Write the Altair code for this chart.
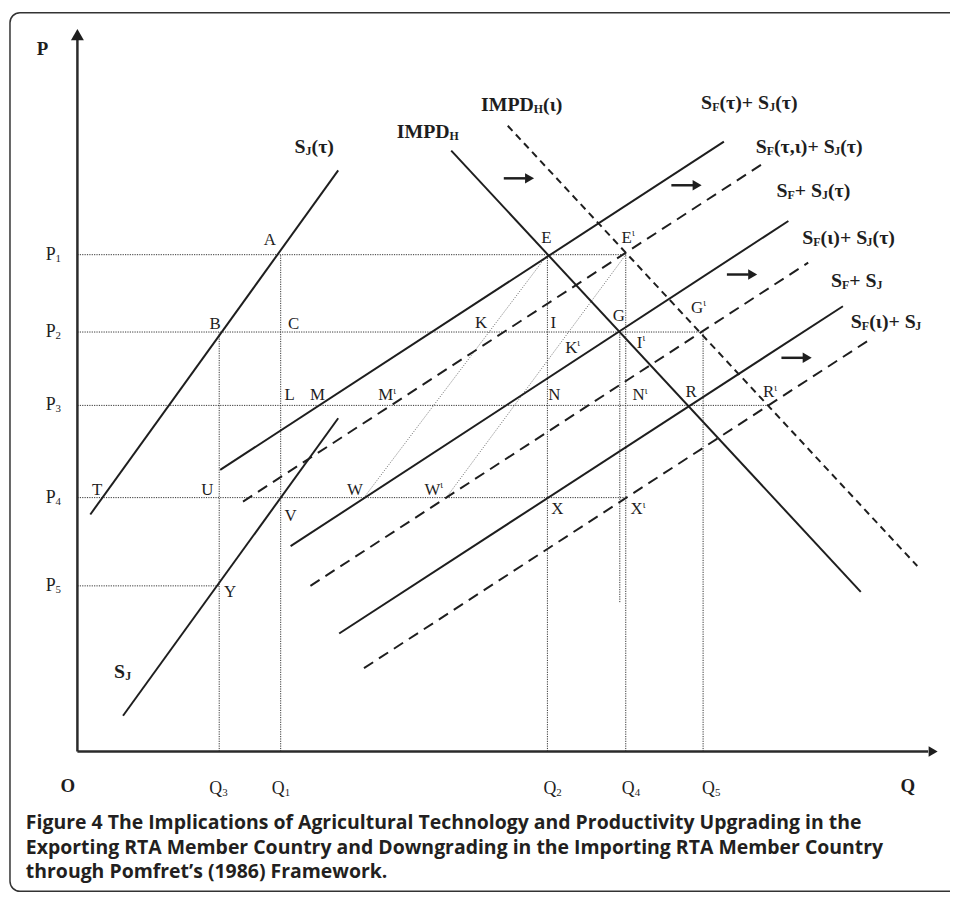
import re
import altair as alt
import pandas as pd

# ---------------- data (diagram units: Q to the right, P upward) ----------------
P_NAMES = ["P_{1}", "P_{2}", "P_{3}", "P_{4}", "P_{5}"]
P_VALUES = [501, 423, 349, 256, 167]
P_GUIDE_END_Q = [553, 627, 695, 552, 143]          # horizontal dotted guides end at E', G', R', X', Y

Q_NAMES = ["Q_{3}", "Q_{1}", "Q_{2}", "Q_{4}", "Q_{5}"]
Q_VALUES = [143, 205, 474, 553, 631]
Q_GUIDE_TOP_P = [423, 501, 501, 501, 423]          # vertical dotted guides end at B, A, E, E', G'

CURVE_LABELS = ["S_{J}(τ)", "S_{J}", "IMPD_{H}", "IMPD_{H}(ι)", "S_{F}(τ)+ S_{J}(τ)",
                "S_{F}(τ,ι)+ S_{J}(τ)", "S_{F}+ S_{J}(τ)", "S_{F}(ι)+ S_{J}(τ)",
                "S_{F}+ S_{J}", "S_{F}(ι)+ S_{J}"]
CURVE_STYLE = ["solid", "solid", "solid", "short", "solid", "dash", "solid", "dash", "solid", "dash"]
CURVE_Q0 = [13, 46, 377, 434, 144, 167, 215, 235, 264, 289]
CURVE_P0 = [239, 36, 606, 631, 284, 252, 207, 167, 119, 84]
CURVE_Q1 = [263, 263, 790, 847, 652, 690, 717, 737, 772, 800]
CURVE_P1 = [586, 336, 161, 187, 615, 592, 535, 493, 449, 416]

POINT_LABELS = ["A", "B", "C", "E", "E^{ι}", "K", "I", "G", "G^{ι}", "K^{ι}", "I^{ι}",
                "L", "M", "M^{ι}", "N", "N^{ι}", "R", "R^{ι}", "T", "U", "W", "W^{ι}",
                "V", "X", "X^{ι}", "Y"]
POINT_Q = [194, 139, 218, 473, 554, 407, 480, 546, 625, 498, 567,
           214, 242, 311, 481, 566, 619, 697, 20, 131, 280, 358,
           215, 484, 564, 154]
POINT_P = [511, 426, 426, 513, 513, 427, 427, 434, 442, 402, 407,
           354, 354, 354, 354, 354, 357, 357, 259, 259, 259, 259,
           232, 239, 239, 156]

# thin dotted diagonals W-E and W'-E'
DIAG_Q0 = [289, 372]
DIAG_P0 = [256, 256]
DIAG_Q1 = [474, 553]
DIAG_P1 = [501, 501]

# extra vertical guide from G
GV_Q = [547]
GV_P0 = [423]
GV_P1 = [150]

# shift arrows
ARROW_Q = [430, 599, 655, 710]
ARROW_P = [578, 571, 481, 397]

CAPTION_LINES = [
    "Figure 4 The Implications of Agricultural Technology and Productivity Upgrading in the",
    "Exporting RTA Member Country and Downgrading in the Importing RTA Member Country",
    "through Pomfret\u2019s (1986) Framework.",
]

# ---------------- layout helpers ----------------
XS = alt.Scale(domain=[-70, 880], nice=False, zero=False)
YS = alt.Scale(domain=[-143, 746], nice=False, zero=False)
INK = "#1e1e1e"
GUIDE = "#333333"

BOLD_W = {'S': 556, 'J': 500, 'F': 611, 'H': 778, 'I': 389, 'M': 944, 'P': 611, 'D': 722,
          '(': 333, ')': 333, '+': 570, ' ': 250, ',': 250, 'τ': 470, 'ι': 280}
REG_W = {'A': 722, 'B': 667, 'C': 667, 'E': 611, 'G': 722, 'I': 333, 'K': 722, 'L': 611,
         'M': 889, 'N': 722, 'R': 667, 'T': 611, 'U': 722, 'V': 722, 'W': 944, 'X': 722,
         'Y': 722, 'P': 556, 'Q': 722, 'ι': 280}


def width(txt, widths, size):
    return sum(widths.get(c, 500) for c in txt) * size / 1000.0


def layout(markup, q, p, size, widths, sub=(12, 2), sup=(10, 6), center=False):
    parts = re.split(r"([_^])\{([^}]*)\}", markup)
    pieces = []
    i = 0
    while i < len(parts):
        if i % 3 == 0:
            if parts[i]:
                pieces.append((parts[i], size, 0))
            i += 1
        else:
            kind, txt = parts[i], parts[i + 1]
            if kind == "_":
                pieces.append((txt, sub[0], -sub[1]))
            else:
                pieces.append((txt, sup[0], sup[1]))
            i += 2
    x = q
    if center:
        x = q - width(pieces[0][0], widths, pieces[0][1]) / 2.0
    rows = []
    for txt, s, dp in pieces:
        lead = len(txt) - len(txt.lstrip(" "))
        x += width(" " * lead, widths, s)
        core = txt.strip(" ")
        rows.append(dict(q=x, p=p + dp, t=core, s=s))
        x += width(core, widths, s) + width(" " * (len(txt) - lead - len(core)), widths, s)
    return rows


def rules(df, **mark):
    return alt.Chart(df).mark_rule(**mark).encode(
        x=alt.X("q0:Q", scale=XS, axis=None),
        y=alt.Y("p0:Q", scale=YS, axis=None),
        x2="q1:Q", y2="p1:Q")


def texts(rows, color=INK, **mark):
    return alt.Chart(pd.DataFrame(rows)).mark_text(
        align="left", baseline="alphabetic", color=color, **mark).encode(
        x=alt.X("q:Q", scale=XS, axis=None),
        y=alt.Y("p:Q", scale=YS, axis=None),
        text="t:N",
        size=alt.Size("s:Q", scale=None))


# ---------------- tables ----------------
curves = pd.DataFrame(dict(q0=CURVE_Q0, p0=CURVE_P0, q1=CURVE_Q1, p1=CURVE_P1, style=CURVE_STYLE))

hguides = pd.DataFrame(dict(q0=[0] * 5, p0=P_VALUES, q1=P_GUIDE_END_Q, p1=P_VALUES))
vguides = pd.DataFrame(dict(q0=Q_VALUES + GV_Q, p0=[0] * 5 + GV_P0,
                            q1=Q_VALUES + GV_Q, p1=Q_GUIDE_TOP_P + GV_P1))
guides = pd.concat([hguides, vguides], ignore_index=True)
diags = pd.DataFrame(dict(q0=DIAG_Q0, p0=DIAG_P0, q1=DIAG_Q1, p1=DIAG_P1))

axes_df = pd.DataFrame(dict(q0=[0, 0], p0=[0, 0], q1=[0, 858], p1=[718, 0]))
heads_up = pd.DataFrame(dict(q=[0], p=[723]))
heads_right = pd.DataFrame(dict(q=[863] + [a + 26 for a in ARROW_Q], p=[0] + ARROW_P))
arrows = pd.DataFrame(dict(q0=ARROW_Q, p0=ARROW_P, q1=[a + 22 for a in ARROW_Q], p1=ARROW_P))

frame = pd.DataFrame(dict(q0=[-68], q1=[895], p0=[745], p1=[-141]))

# text rows
bold_rows = []
CURVE_LABEL_Q = [219, 37, 322, 407, 629, 684, 705, 731, 760, 780]
CURVE_LABEL_P = [604, 74, 619, 646, 648, 604, 559, 512, 468, 427]
for lab, q, p in zip(CURVE_LABELS, CURVE_LABEL_Q, CURVE_LABEL_P):
    bold_rows += layout(lab, q, p, 20, BOLD_W, sub=(12, 2))
bold_rows += [dict(q=-41, p=702, t="P", s=19), dict(q=-17, p=-41, t="O", s=19),
              dict(q=830, p=-41, t="Q", s=19)]

reg_rows = []
for lab, q, p in zip(POINT_LABELS, POINT_Q, POINT_P):
    reg_rows += layout(lab, q, p, 17, REG_W, sup=(10, 7), center=True)
for lab, pv in zip(P_NAMES, P_VALUES):
    reg_rows += layout(lab, -32, pv - 5, 18, REG_W, sub=(11, 2))
Q_LABEL_LEFT = [133, 196, 470, 549, 630]
for lab, ql in zip(Q_NAMES, Q_LABEL_LEFT):
    reg_rows += layout(lab, ql, -43, 18, REG_W, sub=(11, 2))

cap_rows = [dict(q=-52, p=-78 - 25 * i, t=line, s=19.6) for i, line in enumerate(CAPTION_LINES)]

# ---------------- chart ----------------
layers = [
    alt.Chart(frame).mark_rect(filled=False, stroke="#333333", strokeWidth=1.5, cornerRadius=10).encode(
        x=alt.X("q0:Q", scale=XS, axis=None), x2="q1:Q",
        y=alt.Y("p0:Q", scale=YS, axis=None), y2="p1:Q"),
    rules(guides, color=GUIDE, strokeWidth=1, strokeDash=[1.2, 1.2]),
    rules(diags, color="#444444", strokeWidth=0.8, strokeDash=[1, 1.6]),
    rules(curves[curves["style"] == "solid"], color=INK, strokeWidth=2),
    rules(curves[curves["style"] == "dash"], color=INK, strokeWidth=2, strokeDash=[11, 7]),
    rules(curves[curves["style"] == "short"], color=INK, strokeWidth=2, strokeDash=[7, 5]),
    rules(axes_df, color="#2a2a2a", strokeWidth=2.5),
    rules(arrows, color=INK, strokeWidth=2.5),
    alt.Chart(heads_up).mark_point(shape="triangle-up", filled=True, size=170, color=INK,
                                   opacity=1, strokeWidth=0).encode(
        x=alt.X("q:Q", scale=XS, axis=None), y=alt.Y("p:Q", scale=YS, axis=None)),
    alt.Chart(heads_right).mark_point(shape="triangle-right", filled=True, size=110, color=INK, opacity=1).encode(
        x=alt.X("q:Q", scale=XS, axis=None), y=alt.Y("p:Q", scale=YS, axis=None)),
    texts(bold_rows, font="Liberation Serif", fontWeight="bold"),
    texts(reg_rows, font="Liberation Serif", fontWeight="normal"),
    texts(cap_rows, color="#231f20", font="Open Sans", fontWeight="bold"),
]

chart = alt.layer(*layers).properties(
    width=950, height=889, padding=0,
    autosize=alt.AutoSizeParams(type="none"),
).configure_view(stroke=None)

chart.save("out.html", embed_options={"renderer": "svg", "actions": False})
